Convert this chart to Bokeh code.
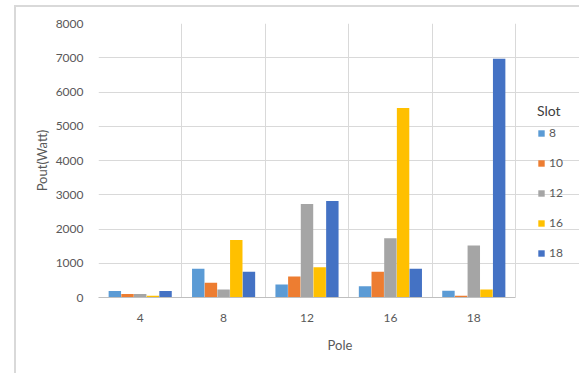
from bokeh.plotting import figure
from bokeh.models import ColumnDataSource, FixedTicker, Legend, LegendItem, Range1d
from bokeh.transform import dodge
from bokeh.embed import file_html
from bokeh.resources import INLINE

poles = ["4", "8", "12", "16", "18"]
slots = ["8", "10", "12", "16", "18"]
slot8 = [190, 840, 380, 330, 195]
slot10 = [100, 430, 610, 750, 50]
slot12 = [100, 230, 2730, 1730, 1520]
slot16 = [50, 1680, 880, 5530, 230]
slot18 = [190, 750, 2820, 840, 6970]
colors = ["#5B9BD5", "#ED7D31", "#A5A5A5", "#FFC000", "#4472C4"]
y_ticks = [0, 1000, 2000, 3000, 4000, 5000, 6000, 7000, 8000]

series = [slot8, slot10, slot12, slot16, slot18]
n = len(poles)
pos = [i + 0.5 for i in range(n)]
data = {"x": pos}
for s, vals in zip(slots, series):
    data["s" + s] = vals
source = ColumnDataSource(data)

# plot area spans 417 px for the 5 categories; the frame extends to the right
# edge (483 px) so that the legend can sit beside the plotted area
x_end = n * 483 / 417

FONT = "Lato"
p = figure(width=565, height=368, output_backend="svg", toolbar_location=None,
           x_range=Range1d(0, x_end), y_range=Range1d(0, 8000),
           min_border_left=82, min_border_right=0, min_border_top=16, min_border_bottom=78,
           margin=(5, 0, 0, 14))
p.styles = {"border-top": "2px solid #d9d9d9", "border-left": "2px solid #d9d9d9"}
p.outline_line_color = None

bw = 0.152
items = []
for k, (s, c) in enumerate(zip(slots, colors)):
    off = (k - 2) * bw
    r = p.vbar(x=dodge("x", off, range=p.x_range), top="s" + s, width=bw * 0.98,
               source=source, fill_color=c, line_color=None)
    items.append(LegendItem(label=s, renderers=[r]))

p.xaxis.ticker = FixedTicker(ticks=pos)
p.xaxis.major_label_overrides = {x: lab for x, lab in zip(pos, poles)}
p.xaxis.bounds = (0, n)
p.xgrid.ticker = FixedTicker(ticks=list(range(n + 1)))
p.yaxis.ticker = FixedTicker(ticks=y_ticks)
p.ygrid.ticker = FixedTicker(ticks=y_ticks)
p.ygrid.bounds = (0, n)
for g in (p.xgrid, p.ygrid):
    g.grid_line_color = "#d9d9d9"
    g.grid_line_width = 1

p.xaxis.axis_line_color = "#bfbfbf"
p.yaxis.axis_line_color = None
for ax in (p.xaxis, p.yaxis):
    ax.major_tick_line_color = None
    ax.minor_tick_line_color = None
    ax.major_label_text_font = FONT
    ax.major_label_text_font_size = "12px"
    ax.major_label_text_color = "#595959"
    ax.axis_label_text_font = FONT
    ax.axis_label_text_font_size = "13px"
    ax.axis_label_text_color = "#595959"
    ax.axis_label_text_font_style = "normal"
p.xaxis.axis_label = "Pole"
p.yaxis.axis_label = "Pout(Watt)"
p.xaxis.major_label_standoff = 10
p.xaxis.axis_label_standoff = 12
p.yaxis.major_label_standoff = 9
p.yaxis.axis_label_standoff = 3

legend = Legend(items=items, title="Slot", location=(439, 37),
                border_line_color=None, background_fill_alpha=0,
                label_text_font=FONT, label_text_font_size="12px", label_text_color="#595959",
                title_text_font=FONT, title_text_font_size="14px", title_text_color="#404040",
                title_text_font_style="normal", title_standoff=6,
                glyph_width=8, glyph_height=8, label_standoff=4, spacing=15,
                label_height=12, padding=2, margin=0)
p.add_layout(legend, "center")

open("out.html", "w").write(file_html(p, INLINE))
